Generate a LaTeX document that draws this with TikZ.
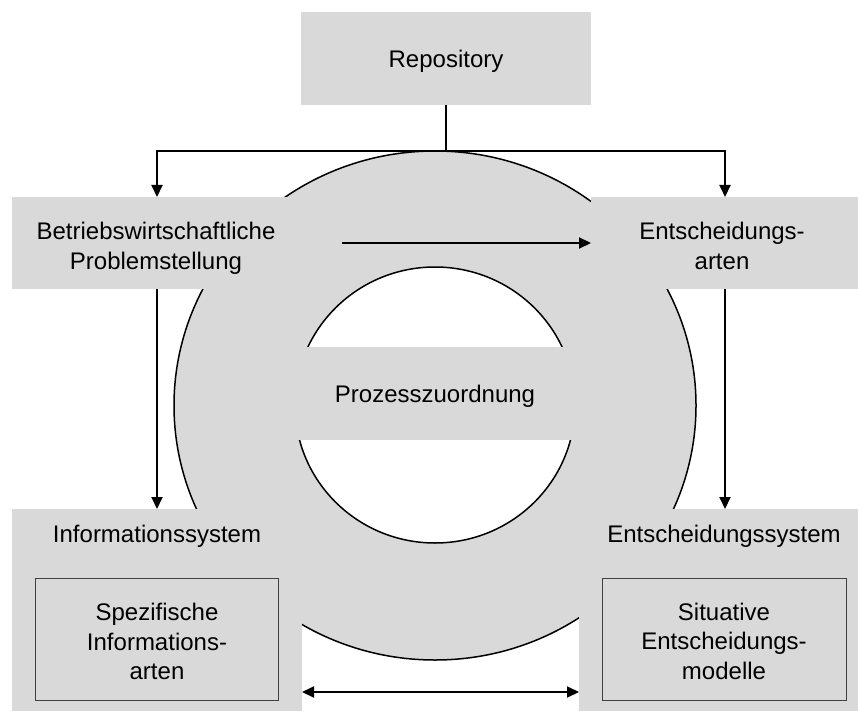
\documentclass[tikz,border=0pt]{standalone}
\usepackage{fontspec}
\setmainfont{Liberation Sans}
\usetikzlibrary{arrows.meta,calc}
\definecolor{panel}{HTML}{D9D9D9}
\definecolor{frameline}{HTML}{404040}
\begin{document}
\begin{tikzpicture}[x=1pt,y=-1pt,
  panel/.style={fill=panel, draw=none, inner sep=0pt, outer sep=0pt},
  inset/.style={fill=panel, draw=frameline, line width=1pt, inner sep=0pt, outer sep=0pt},
  caption/.style={font=\fontsize{24}{29.6}\selectfont, align=center, inner sep=0pt},
  tip/.tip={Triangle[length=12pt,width=11pt]},
  link/.style={line width=2pt},
  flow/.style={link, -tip},
]
\useasboundingbox (0,0) rectangle (858,711);

% ring with its hole
\draw[fill=panel, line width=1.5pt] (435,405.5) ellipse [x radius=261, y radius=254.5];
\draw[fill=white, line width=1.5pt] (435,405) ellipse [x radius=140, y radius=138];

% band across the hole
\node[panel, minimum width=300, minimum height=93] (band) at (435,393.5) {};

% blocks
\node[panel, minimum width=290, minimum height=93] (repo) at (446,58.5) {};
\node[panel, minimum width=290, minimum height=92] (bwl) at (157,243) {};
\node[panel, minimum width=268, minimum height=92] (ea) at (725,243) {};
\node[panel, minimum width=290, minimum height=202] (is) at (157,610) {};
\node[panel, minimum width=292, minimum height=202] (es) at (725,610) {};
\node[inset, minimum width=243, minimum height=122] (isin) at (156.5,639) {};
\node[inset, minimum width=244, minimum height=122] (esin) at (724,639) {};

% texts
\node[caption, anchor=base] (repo-t) at (446,68) {Repository};
\node[caption, anchor=base] (band-t) at (435,402.5) {Prozesszuordnung};
\node[caption] (bwl-t) at (156,248) {Betriebswirtschaftliche\\Problemstellung};
\node[caption] (ea-t) at (722,245.7) {Entscheidungs-\\arten};
\node[caption, anchor=base] (is-t) at (157,542) {Informationssystem};
\node[caption, anchor=base] (es-t) at (724,542) {Entscheidungssystem};
\node[caption] (isin-t) at (157,641.5) {Spezifische\\Informations-\\arten};
\node[caption] (esin-t) at (724,641.4) {Situative\\Entscheidungs-\\modelle};

% connectors
\coordinate (split) at (446,151);
\coordinate (mid) at (342,243);
\coordinate (low) at (0,692);
\draw[link] (repo.south) -- (split);
\draw[flow] (split) -| (bwl.north);
\draw[flow] (split) -| (ea.north);
\draw[flow] (bwl.south) -- (is.north);
\draw[flow] (ea.south) -- (es.north);
\draw[flow] (mid) -- (mid -| ea.west);
\draw[link, tip-tip] (is.east |- low) -- (es.west |- low);
\end{tikzpicture}
\end{document}
